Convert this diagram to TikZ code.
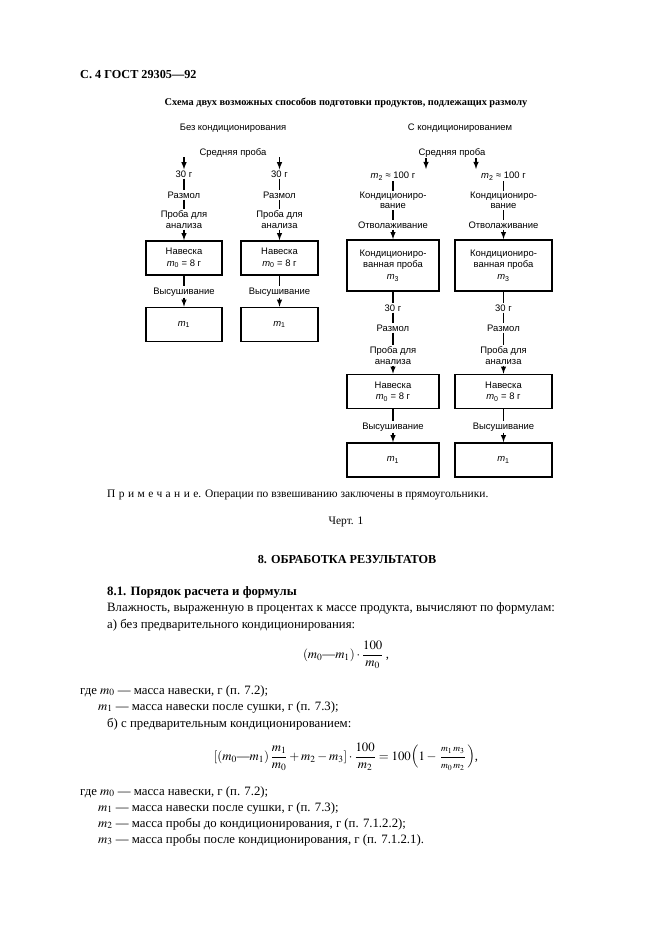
\documentclass[tikz,border=0pt]{standalone}
\usepackage{amsmath}
\usepackage{mathptmx}
\usepackage{fontspec}
\setmainfont{Liberation Serif}
\newfontfamily\chartfont{Liberation Sans}
\usetikzlibrary{arrows}

\tikzset{
	lbl/.style={font=\chartfont\fontsize{8.5}{9.5}\selectfont, inner sep=1pt, align=center},
	wbox/.style={draw, line width=1.5pt, font=\chartfont\fontsize{8.5}{10.5}\selectfont, align=center, inner sep=1pt, minimum width=#1, minimum height=30.6pt},
	link/.style={line width=1.2pt},
	feed/.style={line width=1.2pt, -latex},
	body/.style={font=\fontsize{11.5}{14}\selectfont, anchor=base west, inner sep=0pt}
}
\newcommand{\msub}[1]{\textit{m}\textsubscript{#1}}

\begin{document}
\begin{tikzpicture}[x=0.9pt,y=-0.9pt]
		\useasboundingbox (0,0) rectangle (661,936);
		
		% page head
		\node[body, font=\bfseries\fontsize{11}{14}\selectfont] (head) at (80,78) {С. 4 ГОСТ 29305—92};
		\node[body, anchor=base, font=\bfseries\fontsize{9.3}{11}\selectfont] (title) at (346,105) {Схема двух возможных способов подготовки продуктов, подлежащих размолу};
		
		%without conditioning
		\node[lbl] (plain) at (233,128) {Без кондиционирования};
		\node[lbl] (avgL) at (233,153) {Средняя проба};
		\coordinate (inA) at (184,157);
		\coordinate (inB) at (279.5,157);
		
		\node[lbl] (a30) at (184,174) {30 г};
		\node[lbl] (agrind) at (184,195) {Размол};
		\node[lbl] (asample) at (184,219.5) {Проба для\\анализа};
		\node[wbox=68pt] (aweigh) at (184,258) {Навеска\\\msub{0} = 8 г};
		\node[lbl] (adry) at (184,292) {Высушивание};
		\node[wbox=68pt] (adried) at (184,324.5) {\msub{1}};
		
		\node[lbl] (b30) at (279.5,174) {30 г};
		\node[lbl] (bgrind) at (279.5,195) {Размол};
		\node[lbl] (bsample) at (279.5,219.5) {Проба для\\анализа};
		\node[wbox=69pt] (bweigh) at (279.5,258) {Навеска\\\msub{0} = 8 г};
		\node[lbl] (bdry) at (279.5,292) {Высушивание};
		\node[wbox=69pt] (bdried) at (279.5,324.5) {\msub{1}};
		
		\draw[feed] (inA) -- (a30);
		\draw[link] (a30) -- (agrind);
		\draw[link] (agrind) -- (asample);
		\draw[feed] (asample) -- (aweigh);
		\draw[link] (aweigh) -- (adry);
		\draw[feed] (adry) -- (adried);
		
		\draw[feed] (inB) -- (b30);
		\draw[link] (b30) -- (bgrind);
		\draw[link] (bgrind) -- (bsample);
		\draw[feed] (bsample) -- (bweigh);
		\draw[link] (bweigh) -- (bdry);
		\draw[feed] (bdry) -- (bdried);
		
		%with conditioning
		\node[lbl] (cond) at (460,128) {С кондиционированием};
		\node[lbl] (avgR) at (452,153) {Средняя проба};
		\coordinate (inC) at (426,158);
		\coordinate (tipC) at (426,169);
		\coordinate (inD) at (476,158);
		\coordinate (tipD) at (476,169);
		
		\node[lbl] (c100) at (393,176) {\msub{2} ≈ 100 г};
		\node[lbl] (cwet) at (393,200.5) {Кондициониро-\\вание};
		\node[lbl] (crest) at (393,225) {Отволаживание};
		\node[wbox=83pt, minimum height=46pt] (cconded) at (393,265.5) {Кондициониро-\\ванная проба\\\msub{3}};
		\node[lbl] (c30) at (393,308) {30 г};
		\node[lbl] (cgrind) at (393,328) {Размол};
		\node[lbl] (csample) at (393,355.5) {Проба для\\анализа};
		\node[wbox=83pt] (cweigh) at (393,391.5) {Навеска\\\msub{0} = 8 г};
		\node[lbl] (cdry) at (393,427) {Высушивание};
		\node[wbox=83pt] (cdried) at (393,460) {\msub{1}};
		
		\node[lbl] (d100) at (503.5,176) {\msub{2} ≈ 100 г};
		\node[lbl] (dwet) at (503.5,200.5) {Кондициониро-\\вание};
		\node[lbl] (drest) at (503.5,225) {Отволаживание};
		\node[wbox=87pt, minimum height=46pt] (dconded) at (503.5,265.5) {Кондициониро-\\ванная проба\\\msub{3}};
		\node[lbl] (d30) at (503.5,308) {30 г};
		\node[lbl] (dgrind) at (503.5,328) {Размол};
		\node[lbl] (dsample) at (503.5,355.5) {Проба для\\анализа};
		\node[wbox=87pt] (dweigh) at (503.5,391.5) {Навеска\\\msub{0} = 8 г};
		\node[lbl] (ddry) at (503.5,427) {Высушивание};
		\node[wbox=87pt] (ddried) at (503.5,460) {\msub{1}};
		
		\draw[feed] (inC) -- (tipC);
		\draw[link] (c100) -- (cwet);
		\draw[link] (cwet) -- (crest);
		\draw[feed] (crest) -- (cconded);
		\draw[link] (cconded) -- (c30);
		\draw[link] (c30) -- (cgrind);
		\draw[link] (cgrind) -- (csample);
		\draw[feed] (csample) -- (cweigh);
		\draw[link] (cweigh) -- (cdry);
		\draw[feed] (cdry) -- (cdried);
		
		\draw[feed] (inD) -- (tipD);
		\draw[link] (d100) -- (dwet);
		\draw[link] (dwet) -- (drest);
		\draw[feed] (drest) -- (dconded);
		\draw[link] (dconded) -- (d30);
		\draw[link] (d30) -- (dgrind);
		\draw[link] (dgrind) -- (dsample);
		\draw[feed] (dsample) -- (dweigh);
		\draw[link] (dweigh) -- (ddry);
		\draw[feed] (ddry) -- (ddried);
		
		%note and caption
		\node[body, font=\fontsize{10.3}{13}\selectfont] (note) at (107,497) {{\addfontfeature{LetterSpace=30}Примечание}. Операции по взвешиванию заключены в прямоугольники.};
		\node[body, anchor=base, font=\fontsize{10.3}{13}\selectfont] (fig) at (346,524) {Черт. 1};
		
		%section text
		\node[body, anchor=base, font=\bfseries\fontsize{11}{14}\selectfont] (sect) at (347,563) {8. ОБРАБОТКА РЕЗУЛЬТАТОВ};
		\node[body, font=\bfseries\fontsize{11.5}{14}\selectfont] (sub) at (107,595) {8.1. Порядок расчета и формулы};
		\node[body] (t1) at (107,611) {Влажность, выраженную в процентах к массе продукта, вычисляют по формулам:};
		\node[body] (t2) at (107,628) {а) без предварительного кондиционирования:};
		\node[body, anchor=center] (f1) at (346,655) {$(m_0$—$m_1)\cdot\dfrac{100}{m_0}$\,,};
		\node[body] (w1) at (80,694) {где $m_0$ — масса навески, г (п. 7.2);};
		\node[body] (w2) at (98,710) {$m_1$ — масса навески после сушки, г (п. 7.3);};
		\node[body] (t3) at (107,727) {б) с предварительным кондиционированием:};
		\node[body, anchor=center] (f2) at (346,757) {$[(m_0$—$m_1)\,\dfrac{m_1}{m_0}+m_2-m_3]\cdot\dfrac{100}{m_2}=100\Bigl(1-\,\dfrac{\scriptstyle m_1\,m_3}{\scriptstyle m_0\,m_2}\,\Bigr)$,};
		\node[body] (v1) at (80,795) {где $m_0$ — масса навески, г (п. 7.2);};
		\node[body] (v2) at (98,811) {$m_1$ — масса навески после сушки, г (п. 7.3);};
		\node[body] (v3) at (98,827) {$m_2$ — масса пробы до кондиционирования, г (п. 7.1.2.2);};
		\node[body] (v4) at (98,843) {$m_3$ — масса пробы после кондиционирования, г (п. 7.1.2.1).};
	\end{tikzpicture}
\end{document}
